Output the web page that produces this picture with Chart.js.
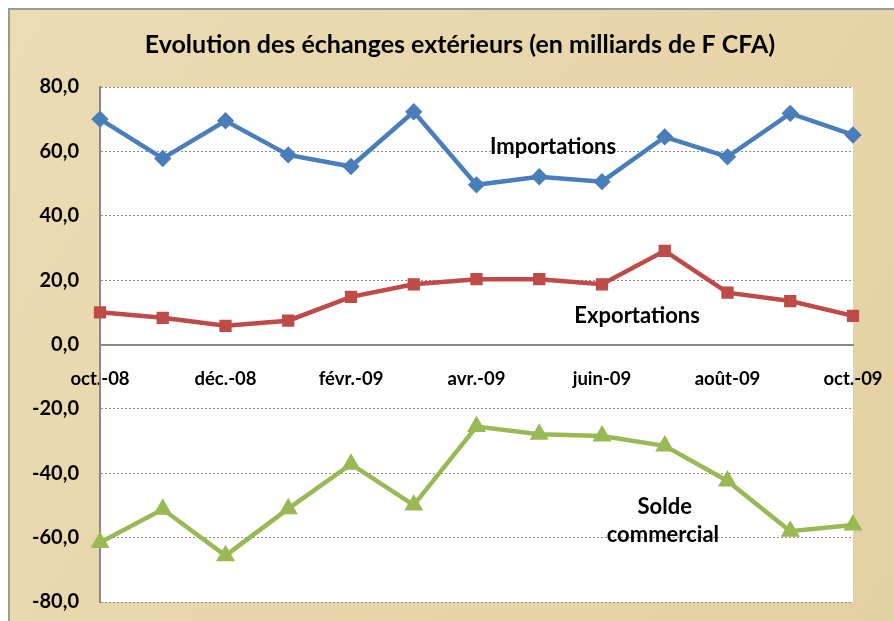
<!DOCTYPE html>
<html>
<head>
<meta charset="utf-8">
<script src="https://cdn.jsdelivr.net/npm/chart.js@4/dist/chart.umd.min.js"></script>
<style>
  body { margin: 0; background: #fff; }
  #chart { display: block; }
</style>
</head>
<body>
<canvas id="chart" width="894" height="621"></canvas>
<script>
// Data
const months = ["oct.-08", "nov.-08", "déc.-08", "janv.-09", "févr.-09", "mars-09", "avr.-09",
                "mai-09", "juin-09", "juil.-09", "août-09", "sept.-09", "oct.-09"];
const importations = [70.0, 57.8, 69.5, 58.9, 55.3, 72.3, 49.6, 52.1, 50.6, 64.5, 58.3, 71.8, 65.1];
const exportations = [10.0, 8.3, 5.8, 7.4, 14.8, 18.7, 20.3, 20.3, 18.7, 29.1, 16.1, 13.5, 8.9];
const soldeCommercial = [-61.5, -51.2, -65.6, -51.0, -37.2, -49.9, -25.5, -27.9, -28.4, -31.5, -42.4, -58.0, -56.1];
const yTicks = [-80, -60, -40, -20, 0, 20, 40, 60, 80];
const titleText = "Evolution des échanges extérieurs (en milliards de F CFA)";

const fontFamily = "Lato, 'Noto Sans', sans-serif";

// Series labels drawn inside the plot (index on x, value on y)
const seriesLabels = [
    { text: "Importations", x: 7.22, y: 61.4 },
    { text: "Exportations", x: 8.56, y: 9.0 },
    { text: "Solde", x: 9.0, y: -50.5 },
    { text: "commercial", x: 8.97, y: -59.2 }
];

// Parchment background, white plot area, title and series labels
const decorPlugin = {
    id: "decor",
    beforeDraw(chart) {
        const ctx = chart.ctx;
        const area = chart.chartArea;
        ctx.save();
        ctx.fillStyle = "#ffffff";
        ctx.fillRect(0, 0, chart.width, chart.height);
        const grad = ctx.createLinearGradient(9, 9, chart.width, chart.height);
        grad.addColorStop(0, "#ecdcb4");
        grad.addColorStop(0.5, "#e8d6aa");
        grad.addColorStop(1, "#e4d0a2");
        ctx.fillStyle = grad;
        ctx.fillRect(9, 9, chart.width - 9, chart.height - 9);
        ctx.strokeStyle = "#9a9a9a";
        ctx.lineWidth = 2;
        ctx.beginPath();
        ctx.moveTo(9, chart.height);
        ctx.lineTo(9, 9);
        ctx.lineTo(chart.width, 9);
        ctx.stroke();
        ctx.fillStyle = "#ffffff";
        ctx.fillRect(area.left, area.top, area.right - area.left, area.bottom - area.top);
        ctx.restore();
    },
    afterDatasetsDraw(chart) {
        const ctx = chart.ctx;
        const xs = chart.scales.x;
        const ys = chart.scales.y;
        ctx.save();
        ctx.fillStyle = "#000";
        ctx.textAlign = "center";
        ctx.textBaseline = "middle";
        ctx.font = "bold 25px " + fontFamily;
        ctx.fillText(titleText, 460, 45);
        ctx.font = "bold 22px " + fontFamily;
        seriesLabels.forEach(l => {
            ctx.fillText(l.text, xs.getPixelForValue(l.x), ys.getPixelForValue(l.y));
        });
        ctx.restore();
    }
};

const ctx = document.getElementById("chart").getContext("2d");
const chart = new Chart(ctx, {
    type: "line",
    data: {
        labels: months,
        datasets: [
            {
                label: "Importations",
                data: importations,
                borderColor: "#4a7ebb",
                backgroundColor: "#4a7ebb",
                borderWidth: 4.5,
                pointStyle: "rectRot",
                pointRadius: 5.5,
                tension: 0
            },
            {
                label: "Exportations",
                data: exportations,
                borderColor: "#be4b48",
                backgroundColor: "#be4b48",
                borderWidth: 4.5,
                pointStyle: "rect",
                pointRadius: 5.5,
                tension: 0
            },
            {
                label: "Solde commercial",
                data: soldeCommercial,
                borderColor: "#98b954",
                backgroundColor: "#98b954",
                borderWidth: 4.5,
                pointStyle: "triangle",
                pointRadius: 6.5,
                tension: 0
            }
        ]
    },
    options: {
        responsive: false,
        animation: false,
        layout: { padding: { left: 10, right: 41, top: 87, bottom: 19 } },
        plugins: {
            legend: { display: false },
            title: { display: false },
            tooltip: { enabled: false }
        },
        scales: {
            x: {
                type: "category",
                offset: false,
                position: { y: 0 },
                // the axis sits on the zero line, so it takes no room at the bottom
                afterFit: s => {
                    s.height = 0;
                    s.paddingLeft = 0;
                    s.paddingRight = 0;
                    s.paddingTop = 0;
                    s.paddingBottom = 0;
                },
                grid: { display: false, drawTicks: false },
                border: { display: true, color: "#888", width: 2 },
                ticks: {
                    autoSkip: false,
                    maxRotation: 0,
                    padding: 23,
                    color: "#000",
                    font: { family: fontFamily, size: 18.5, weight: "bold" },
                    callback: (v, i) => (i % 2 === 0 ? months[i] : "")
                }
            },
            y: {
                min: -80,
                max: 80,
                afterFit: s => {
                    s.width = 90;
                    s.paddingTop = 0;
                    s.paddingBottom = 0;
                },
                afterBuildTicks: s => { s.ticks = yTicks.map(v => ({ value: v })); },
                grid: {
                    drawTicks: false,
                    color: c => (c.tick && c.tick.value === 0 ? "rgba(0,0,0,0)" : "#8c8c8c"),
                    lineWidth: 1
                },
                border: { display: true, color: "#888", width: 2, dash: [2, 2] },
                ticks: {
                    padding: 21,
                    color: "#000",
                    font: { family: fontFamily, size: 20, weight: "bold" },
                    callback: v => v.toFixed(1).replace(".", ",")
                }
            }
        }
    },
    plugins: [decorPlugin]
});
</script>
</body>
</html>
